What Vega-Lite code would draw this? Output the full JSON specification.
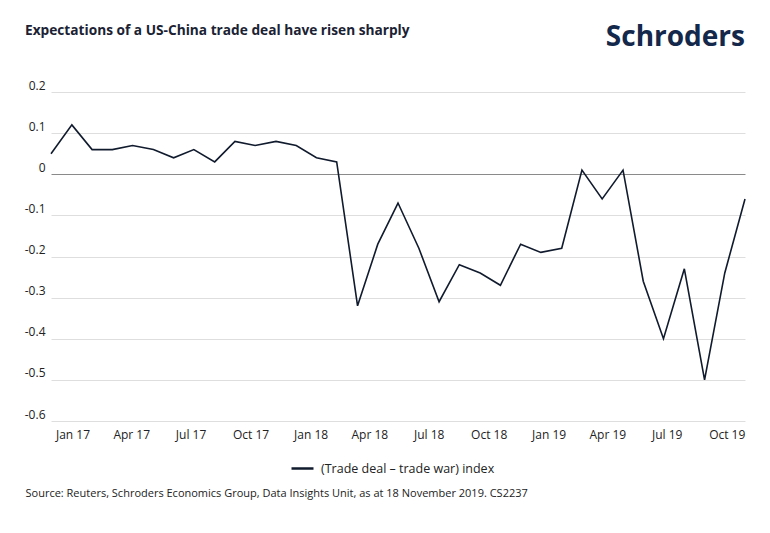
{
  "$schema": "https://vega.github.io/schema/vega-lite/v6.json",
  "width": 694,
  "height": 329,
  "autosize": {"type": "none"},
  "padding": {"left": 51, "top": 92, "right": 25, "bottom": 112},
  "background": "white",
  "config": {
    "font": "Open Sans",
    "view": {"stroke": null}
  },
  "title": {
    "text": "Expectations of a US-China trade deal have risen sharply",
    "anchor": "start",
    "frame": "group",
    "dx": -26,
    "offset": 0,
    "dy": 14,
    "font": "Open Sans",
    "fontSize": 13.7,
    "fontWeight": 700,
    "color": "#1a2233"
  },
  "data": {
    "values": [
      {"date": "2016-11-29", "value": 0.05},
      {"date": "2016-12-31", "value": 0.12},
      {"date": "2017-01-31", "value": 0.06},
      {"date": "2017-03-03", "value": 0.06},
      {"date": "2017-04-03", "value": 0.07},
      {"date": "2017-05-05", "value": 0.06},
      {"date": "2017-06-05", "value": 0.04},
      {"date": "2017-07-06", "value": 0.06},
      {"date": "2017-08-07", "value": 0.03},
      {"date": "2017-09-07", "value": 0.08},
      {"date": "2017-10-08", "value": 0.07},
      {"date": "2017-11-09", "value": 0.08},
      {"date": "2017-12-10", "value": 0.07},
      {"date": "2018-01-10", "value": 0.04},
      {"date": "2018-02-10", "value": 0.03},
      {"date": "2018-03-14", "value": -0.32},
      {"date": "2018-04-14", "value": -0.17},
      {"date": "2018-05-15", "value": -0.07},
      {"date": "2018-06-16", "value": -0.18},
      {"date": "2018-07-17", "value": -0.31},
      {"date": "2018-08-17", "value": -0.22},
      {"date": "2018-09-18", "value": -0.24},
      {"date": "2018-10-19", "value": -0.27},
      {"date": "2018-11-19", "value": -0.17},
      {"date": "2018-12-20", "value": -0.19},
      {"date": "2019-01-21", "value": -0.18},
      {"date": "2019-02-21", "value": 0.01},
      {"date": "2019-03-24", "value": -0.06},
      {"date": "2019-04-25", "value": 0.01},
      {"date": "2019-05-26", "value": -0.26},
      {"date": "2019-06-26", "value": -0.40},
      {"date": "2019-07-28", "value": -0.23},
      {"date": "2019-08-28", "value": -0.50},
      {"date": "2019-09-28", "value": -0.24},
      {"date": "2019-10-29", "value": -0.06}
    ]
  },
  "layer": [
    {
      "mark": {"type": "line", "strokeWidth": 1.6, "interpolate": "linear"},
      "encoding": {
        "x": {
          "field": "date",
          "type": "temporal",
          "scale": {
            "type": "utc",
            "domain": [
              {"year": 2016, "month": 11, "date": 29, "utc": true},
              {"year": 2019, "month": 10, "date": 29, "utc": true}
            ],
            "nice": false
          },
          "axis": {
            "tickCount": {"interval": "month", "step": 3},
            "format": "%b %y",
            "grid": false,
            "ticks": false,
            "domain": false,
            "labelFont": "Open Sans",
            "labelFontSize": 12,
            "labelColor": "#222222",
            "labelPadding": 8,
            "labelFlush": false,
            "labelOverlap": false,
            "title": "Source: Reuters, Schroders Economics Group, Data Insights Unit, as at 18 November 2019. CS2237",
            "titleAnchor": "start",
            "titleAlign": "left",
            "titleBaseline": "middle",
            "titleX": -26,
            "titleY": 72,
            "titleFont": "Open Sans",
            "titleFontSize": 11,
            "titleFontWeight": "normal",
            "titleColor": "#222222",
            "titleLimit": 700
          }
        },
        "y": {
          "field": "value",
          "type": "quantitative",
          "scale": {"domain": [-0.6, 0.2], "nice": false, "zero": false},
          "axis": {
            "values": [0.2, 0.1, 0, -0.1, -0.2, -0.3, -0.4, -0.5, -0.6],
            "labelExpr": "'' + datum.value",
            "title": null,
            "ticks": false,
            "domain": false,
            "grid": true,
            "gridColor": {"condition": {"test": "datum.value === 0", "value": "#8a8a8a"}, "value": "#dedede"},
            "gridWidth": 1,
            "labelFont": "Open Sans",
            "labelFontSize": 12,
            "labelColor": "#222222",
            "labelPadding": 6,
            "labelBaseline": "bottom"
          }
        },
        "color": {
          "datum": "(Trade deal – trade war) index",
          "type": "nominal",
          "scale": {"range": ["#111b2e"]},
          "legend": {
            "title": null,
            "orient": "none",
            "legendX": 239,
            "legendY": 364,
            "symbolType": "stroke",
            "symbolSize": 484,
            "symbolStrokeWidth": 2.5,
            "labelFont": "Open Sans",
            "labelFontSize": 12.5,
            "labelColor": "#222222",
            "labelOffset": 6,
            "labelLimit": 400
          }
        }
      }
    },
    {
      "data": {"values": [{"logo": "Schroders"}]},
      "mark": {
        "type": "text",
        "align": "right",
        "baseline": "middle",
        "font": "Open Sans",
        "fontSize": 28,
        "fontWeight": 700,
        "color": "#13284a"
      },
      "encoding": {
        "x": {"datum": {"year": 2019, "month": 10, "date": 29, "utc": true}, "type": "temporal"},
        "y": {"datum": 0.331, "type": "quantitative"},
        "text": {"field": "logo"}
      }
    }
  ]
}
